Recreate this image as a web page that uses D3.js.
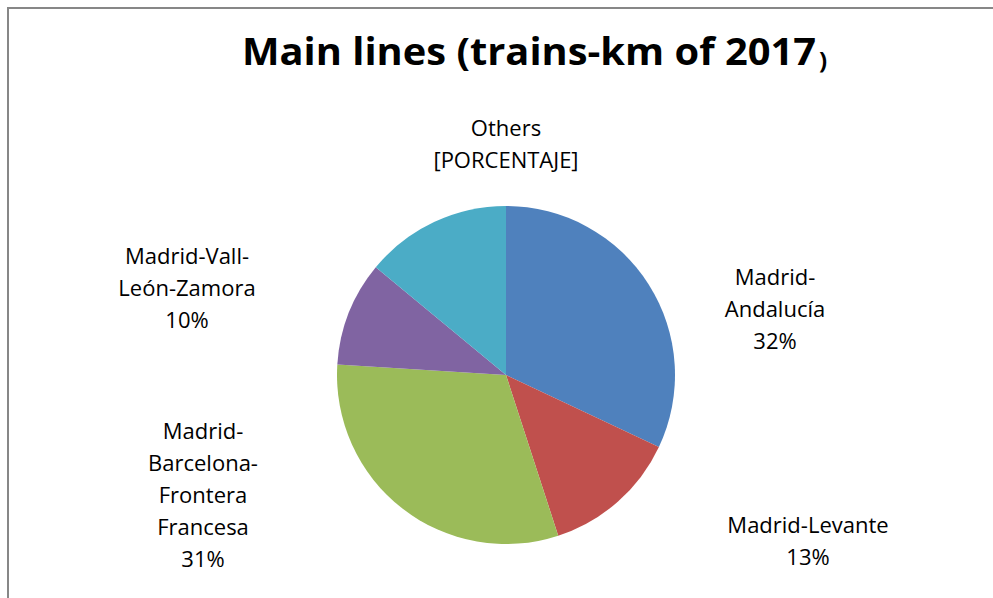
<!DOCTYPE html>
<html>
<head>
<meta charset="utf-8">
<script src="https://cdn.jsdelivr.net/npm/d3@7"></script>
<style>
  body { margin: 0; background: #fff; }
  svg { display: block; }
  text { font-family: "Open Sans", Lato, sans-serif; fill: #000; }
</style>
</head>
<body>
<div id="chart"></div>
<script>
// chart data
const categories = ["Madrid-Andalucía", "Madrid-Levante", "Madrid-Barcelona-Frontera Francesa", "Madrid-Vall-León-Zamora", "Others"];
const shares = [32, 13, 31, 10, 14];
// how each label is shown (line breaks as in the original)
const labelLines = [
    ["Madrid-", "Andalucía", "32%"],
    ["Madrid-Levante", "13%"],
    ["Madrid-", "Barcelona-", "Frontera", "Francesa", "31%"],
    ["Madrid-Vall-", "León-Zamora", "10%"],
    ["Others", "[PORCENTAJE]"]
];
const colors = ["#4F81BD", "#C0504D", "#9BBB59", "#8064A2", "#4BACC6"];

const W = 993, H = 598;
const cx = 506, cy = 375, radius = 169;

const svg = d3.select("#chart").append("svg")
    .attr("width", W)
    .attr("height", H);

// chart area frame (runs off the right and bottom of the picture)
svg.append("rect")
    .attr("x", 8).attr("y", 8)
    .attr("width", W + 20).attr("height", H + 20)
    .attr("fill", "#fff")
    .attr("stroke", "#878787")
    .attr("stroke-width", 2);

// title, closing bracket is smaller in the original
const title = svg.append("text")
    .attr("x", 242)
    .attr("y", 65)
    .style("font-size", "37px")
    .style("font-weight", "bold");
title.append("tspan")
    .attr("textLength", 574)
    .attr("lengthAdjust", "spacingAndGlyphs")
    .text("Main lines (trains-km of 2017");
title.append("tspan").style("font-size", "24px").attr("dx", 3).attr("dy", 4).text(")");

const data = categories.map((c, i) => ({ name: c, value: shares[i], lines: labelLines[i], color: colors[i] }));

const pie = d3.pie()
    .sort(null)
    .value(d => d.value);

const arc = d3.arc()
    .innerRadius(0)
    .outerRadius(radius);

const g = svg.append("g")
    .attr("transform", `translate(${cx},${cy})`);

const arcs = pie(data);

g.selectAll("path")
    .data(arcs)
    .join("path")
    .attr("d", arc)
    .attr("fill", d => d.data.color);

// label placement: Excel "best fit" positions, relative to the pie centre
const labelOffset = [
    [269, -90],
    [302, 158],
    [-303, 64],
    [-319, -111],
    [0, -239]
];
const lineH = 32;

const labels = g.selectAll("text.lbl")
    .data(arcs)
    .join("text")
    .attr("class", "lbl")
    .attr("text-anchor", "middle")
    .style("font-size", "22px");

labels.each(function(d, i) {
    const t = d3.select(this);
    d.data.lines.forEach((ln, j) => {
        t.append("tspan")
            .attr("x", labelOffset[i][0])
            .attr("y", labelOffset[i][1] + j * lineH)
            .text(ln);
    });
});
</script>
</body>
</html>
